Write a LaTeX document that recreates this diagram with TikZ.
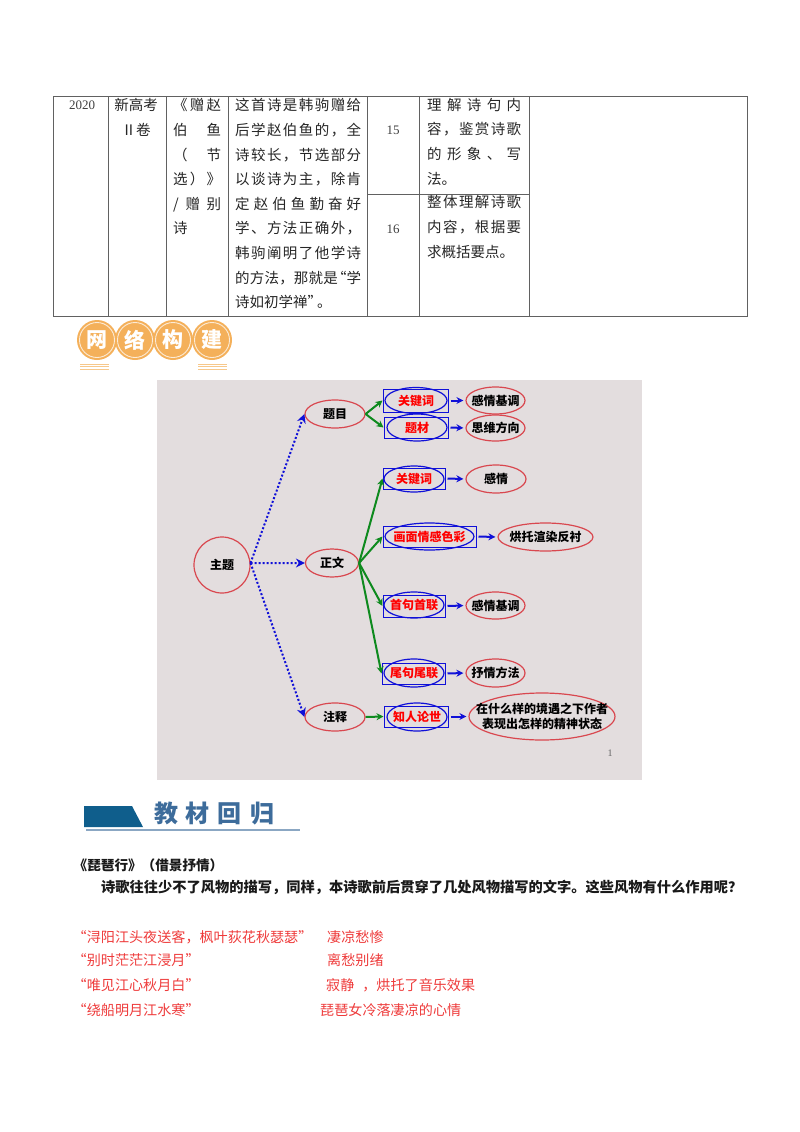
\documentclass[tikz,border=0pt]{standalone}
\usepackage{fontspec}
\usepackage{xcolor}
\usetikzlibrary{shapes.geometric,arrows.meta}
\newfontfamily\cjk{Noto Sans CJK SC}
\setmainfont{Liberation Serif}
\definecolor{bgrey}{HTML}{E3DDDE}
\definecolor{coinfill}{HTML}{F4B05A}
\definecolor{navy}{HTML}{0F5E8C}
\definecolor{headblue}{HTML}{3D6C9B}
\definecolor{linered}{HTML}{EE3B3B}
\definecolor{ellred}{HTML}{D9474F}
\definecolor{arrgreen}{HTML}{0E8A1E}
\definecolor{arrblue}{HTML}{1010D8}
\newcommand{\spreadline}[2]{\makebox[#1][s]{\spreadchars#2\relax}}
\def\spreadchars#1#2{#1\ifx\relax#2\else\hfil\expandafter\spreadchars\fi#2}
\tikzset{
  rule/.style={draw=black!62,line width=1pt},
  celltext/.style={anchor=north west,inner sep=0pt,align=left,text=black!85,font=\cjk\fontsize{14.5}{24.6}\selectfont},
  cellnum/.style={inner sep=0pt,text=black!75,font=\fontsize{13}{15}\selectfont},
  coin/.style={circle,fill=coinfill,minimum size=40pt,inner sep=0pt,text=white,font=\cjk\bfseries\fontsize{21}{23}\selectfont},
  coinring/.style={draw=white!75!coinfill,line width=0.9pt},
  stripe/.style={draw=coinfill!70,line width=0.9pt},
  redell/.style={ellipse,draw=ellred,line width=1.2pt,inner xsep=-9pt,inner ysep=-6pt,font=\cjk\bfseries\fontsize{12}{15}\selectfont,text=black,align=center},
  blueell/.style={ellipse,draw=arrblue,line width=1.2pt,inner xsep=-9pt,inner ysep=-6pt,font=\cjk\bfseries\fontsize{12}{15}\selectfont,text=red},
  bluebox/.style={rectangle,draw=arrblue,line width=1pt,inner sep=0pt},
  dotarrow/.style={draw=arrblue,line width=2pt,dash pattern=on 2pt off 2pt,-{Stealth[length=9pt,width=9pt,inset=3pt]}},
  greenarrow/.style={draw=arrgreen,line width=2pt,-{Stealth[length=7pt,width=7pt]}},
  bluearrow/.style={draw=arrblue,line width=2pt,shorten >=2pt,shorten <=2pt,-{Stealth[length=7pt,width=7pt]}},
  redline/.style={anchor=west,inner sep=0pt,text=linered,font=\cjk\fontsize{14.1}{16}\selectfont},
}
\begin{document}
\begin{tikzpicture}[x=1pt,y=-1pt]
\useasboundingbox (0,0) rectangle (800,1132);

\draw[rule] (53,96) rectangle (747,316);
\foreach \colx in {108,166,228,367,419,529}
  \draw[rule] (\colx,96) -- (\colx,316);
\draw[rule] (367,194) -- (529,194);

\node[cellnum] (year) at (82,105) {2020};
\node[celltext,anchor=north,align=center] (exam) at (136,98.5) {新高考\\Ⅱ卷};
\node[celltext] (poem) at (173,98.5) {\spreadline{48pt}{《赠赵}\\\spreadline{48pt}{伯鱼}\\\spreadline{48pt}{（节}\\\spreadline{48pt}{选）》}\\\spreadline{48pt}{/赠别}\\诗};
\node[celltext] (note) at (235,98.5) {\spreadline{126pt}{这首诗是韩驹赠给}\\\spreadline{126pt}{后学赵伯鱼的，全}\\\spreadline{126pt}{诗较长，节选部分}\\\spreadline{126pt}{以谈诗为主，除肯}\\\spreadline{126pt}{定赵伯鱼勤奋好}\\\spreadline{126pt}{学、方法正确外，}\\\spreadline{126pt}{韩驹阐明了他学诗}\\\spreadline{126pt}{的方法，那就是{{\kern-6pt“}}学}\\诗如初学禅”\kern-5pt。};
\node[cellnum] (qa) at (393,130) {15};
\node[cellnum] (qb) at (393,229) {16};
\node[celltext] (skilla) at (427,98) {\spreadline{94pt}{理解诗句内}\\\spreadline{94pt}{容，鉴赏诗歌}\\\spreadline{94pt}{的形象、写}\\法。};
\node[celltext] (skillb) at (427,195.5) {\spreadline{94pt}{整体理解诗歌}\\\spreadline{94pt}{内容，根据要}\\求概括要点。};

\node[coin] (coina) at (97,340) {网};
\node[coin] (coinb) at (135,340) {络};
\node[coin] (coinc) at (173,340) {构};
\node[coin] (coind) at (212,340) {建};
\foreach \coinname in {coina,coinb,coinc,coind}
  \draw[coinring] (\coinname.center) circle (17.5pt);
\foreach \stripey in {364,366.5,369}{
  \draw[stripe] (80,\stripey) -- (109,\stripey);
  \draw[stripe] (198,\stripey) -- (227,\stripey);
}

\fill[bgrey] (157,380) rectangle (642,780);

\node[redell,minimum width=56pt,minimum height=56pt] (topic) at (222,565) {主题};
\node[redell,minimum width=60pt,minimum height=28pt] (title) at (335,414) {题目};
\node[redell,minimum width=53pt,minimum height=28pt] (body) at (332,563) {正文};
\node[redell,minimum width=60pt,minimum height=28pt] (gloss) at (335,717) {注释};

\node[bluebox,minimum width=65pt,minimum height=23pt] (kwabox) at (415.5,400.5) {};
\node[blueell,minimum width=62pt,minimum height=26pt] (kwa) at (416,400.5) {关键词};
\node[bluebox,minimum width=64pt,minimum height=21pt] (themebox) at (416,427.5) {};
\node[blueell,minimum width=60pt,minimum height=27pt] (theme) at (417,427.5) {题材};
\node[bluebox,minimum width=62pt,minimum height=21pt] (kwbbox) at (414,478.5) {};
\node[blueell,minimum width=60pt,minimum height=26pt] (kwb) at (414,479) {关键词};
\node[bluebox,minimum width=93pt,minimum height=21pt] (imagebox) at (429.5,536.5) {};
\node[blueell,minimum width=89pt,minimum height=27pt] (image) at (429.5,536.5) {画面情感色彩};
\node[bluebox,minimum width=62pt,minimum height=22pt] (openbox) at (414,606) {};
\node[blueell,minimum width=60pt,minimum height=26pt] (open) at (414,605) {首句首联};
\node[bluebox,minimum width=63pt,minimum height=21pt] (endbox) at (413.5,673.5) {};
\node[blueell,minimum width=60pt,minimum height=28pt] (end) at (414,673) {尾句尾联};
\node[bluebox,minimum width=64pt,minimum height=21pt] (lifebox) at (416,716.5) {};
\node[blueell,minimum width=60pt,minimum height=28pt] (life) at (417,717) {知人论世};

\node[redell,minimum width=59pt,minimum height=27pt] (mooda) at (495.5,400.5) {感情基调};
\node[redell,minimum width=59pt,minimum height=26pt] (direct) at (495.5,428) {思维方向};
\node[redell,minimum width=60pt,minimum height=28pt] (feel) at (496,479) {感情};
\node[redell,minimum width=95pt,minimum height=28pt] (foil) at (545.5,537) {烘托渲染反衬};
\node[redell,minimum width=59pt,minimum height=27pt] (moodb) at (495.5,605.5) {感情基调};
\node[redell,minimum width=59pt,minimum height=28pt] (method) at (495.5,673) {抒情方法};
\node[redell,inner xsep=-30pt,minimum width=146pt,minimum height=47pt] (state) at (542,716.5) {在什么样的境遇之下作者\\表现出怎样的精神状态};
\node[inner sep=0pt,text=black!60,font=\fontsize{10}{12}\selectfont] (pageno) at (610,753) {1};

\draw[dotarrow] (topic.4) -- (title.west);
\draw[dotarrow] (topic.4) -- (body.west);
\draw[dotarrow] (topic.4) -- (gloss.west);

\draw[greenarrow] (title.east) -- (kwabox.west);
\draw[greenarrow] (title.east) -- (themebox.west);
\draw[greenarrow] (body.east) -- (kwbbox.west);
\draw[greenarrow] (body.east) -- (imagebox.west);
\draw[greenarrow] (body.east) -- (openbox.west);
\draw[greenarrow] (body.east) -- (endbox.west);
\draw[greenarrow] (gloss.east) -- (lifebox.west);

\draw[bluearrow] (kwabox.east) -- (mooda.west);
\draw[bluearrow] (themebox.east) -- (direct.west);
\draw[bluearrow] (kwbbox.east) -- (feel.west);
\draw[bluearrow] (imagebox.east) -- (foil.west);
\draw[bluearrow] (openbox.east) -- (moodb.west);
\draw[bluearrow] (endbox.east) -- (method.west);
\draw[bluearrow] (lifebox.east) -- (state.west);

\fill[navy] (84,806) -- (132,806) -- (143,827) -- (84,827) -- cycle;
\draw[draw=headblue!60,line width=1.1pt] (86,830) -- (300,830);
\node[inner sep=0pt,text=headblue,font=\cjk\bfseries\fontsize{24}{26}\selectfont] (review) at (214,814) {\spreadline{120pt}{教材回归}};

\node[anchor=west,inner sep=0pt,text=black!90,font=\cjk\bfseries\fontsize{13.6}{16}\selectfont] (pipa) at (73.5,865) {《琵琶行》（借景抒情）};
\node[anchor=west,inner sep=0pt,text=black!90,font=\cjk\bfseries\fontsize{14.25}{16}\selectfont] (ask) at (101,887) {诗歌往往少不了风物的描写，同样，本诗歌前后贯穿了几处风物描写的文字。这些风物有什么作用呢？};

\node[redline] (linea) at (72.5,937) {“浔阳江头夜送客，枫叶荻花秋瑟瑟”};
\node[redline] (lineb) at (72.5,960) {“别时茫茫江浸月”};
\node[redline] (linec) at (72.5,985) {“唯见江心秋月白”};
\node[redline] (lined) at (72.5,1010) {“绕船明月江水寒”};
\node[redline] (answera) at (327,937) {凄凉愁惨};
\node[redline] (answerb) at (327,960) {离愁别绪};
\node[redline] (answerc) at (326,985) {寂静\hspace{8pt}，烘托了音乐效果};
\node[redline] (answerd) at (320,1010) {琵琶女冷落凄凉的心情};
\end{tikzpicture}
\end{document}
